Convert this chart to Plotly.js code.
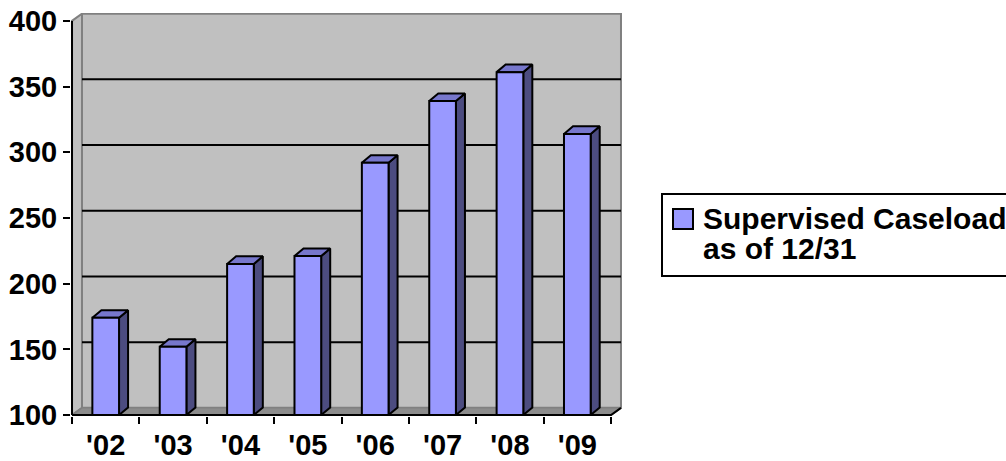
<!DOCTYPE html>
<html>
<head>
<meta charset="utf-8">
<script src="https://cdn.plot.ly/plotly-3.0.1.min.js"></script>
<style>html,body{margin:0;padding:0;background:#fff;}#chart{width:1006px;height:461px;}</style>
</head>
<body>
<div id="chart"></div>
<script>
// ---- data ----
const categories = ["'02", "'03", "'04", "'05", "'06", "'07", "'08", "'09"];
const caseload = [174, 152, 215, 221, 292, 339, 361, 314];
const yTickValues = [100, 150, 200, 250, 300, 350, 400];
const gridValues = [150, 200, 250, 300, 350];
const legendLines = ['Supervised Caseload', 'as of 12/31'];

// ---- 3D look geometry (in axis units) ----
const BASE = 100, TOPV = 400;
const BAR_W = 0.396, BAR_DX = 0.134, BAR_DY = 5.8;
const WALL_DX = 0.148, WALL_DY = 5.5;
const NCAT = categories.length;

const FONT = {family: 'Liberation Sans, Arial, sans-serif', size: 29, color: '#000', weight: 'bold'};
const LFONT = {family: 'Liberation Sans, Arial, sans-serif', size: 30, color: '#000', weight: 'bold'};

function poly(pts) { return {x: pts.map(p => p[0]), y: pts.map(p => p[1])}; }
function multi(list) {
  const x = [], y = [];
  list.forEach(pts => { pts.forEach(p => { x.push(p[0]); y.push(p[1]); }); x.push(null); y.push(null); });
  return {x, y};
}
function fillTrace(d, fill, line, lw) {
  return {type: 'scatter', mode: 'lines', x: d.x, y: d.y, fill: 'toself', fillcolor: fill,
          line: {color: line, width: lw}, hoverinfo: 'skip', showlegend: false};
}
function lineTrace(d, color, lw) {
  return {type: 'scatter', mode: 'lines', x: d.x, y: d.y, line: {color: color, width: lw},
          hoverinfo: 'skip', showlegend: false, connectgaps: false};
}

const xBack0 = WALL_DX, xBack1 = NCAT + WALL_DX;
const traces = [];
// back wall
traces.push(fillTrace(poly([[xBack0, BASE + WALL_DY], [xBack1, BASE + WALL_DY], [xBack1, TOPV + WALL_DY], [xBack0, TOPV + WALL_DY], [xBack0, BASE + WALL_DY]]), '#C0C0C0', '#808080', 2));
// left wall
traces.push(fillTrace(poly([[0, BASE], [xBack0, BASE + WALL_DY], [xBack0, TOPV + WALL_DY], [0, TOPV], [0, BASE]]), '#C0C0C0', '#808080', 2));
// floor
traces.push(fillTrace(poly([[0, BASE], [xBack0, BASE + WALL_DY], [xBack1, BASE + WALL_DY], [NCAT, BASE], [0, BASE]]), '#8C8C8C', '#808080', 1.5));
// gridlines on the back wall
traces.push(lineTrace(multi(gridValues.map(g => [[xBack0, g + WALL_DY], [xBack1, g + WALL_DY]])), '#000', 2));

// bars
const fronts = [], sides = [], tops = [];
caseload.forEach((v, i) => {
  const x0 = i + 0.5 - BAR_W / 2, x1 = i + 0.5 + BAR_W / 2;
  fronts.push([[x0, BASE], [x1, BASE], [x1, v], [x0, v], [x0, BASE]]);
  sides.push([[x1, BASE], [x1 + BAR_DX, BASE + BAR_DY], [x1 + BAR_DX, v + BAR_DY], [x1, v], [x1, BASE]]);
  tops.push([[x0, v], [x1, v], [x1 + BAR_DX, v + BAR_DY], [x0 + BAR_DX, v + BAR_DY], [x0, v]]);
});
traces.push(fillTrace(multi(sides), '#4C4C80', '#000', 2));
traces.push(fillTrace(multi(tops), '#7777CC', '#000', 2));
const frontTrace = fillTrace(multi(fronts), '#9999FF', '#000', 2);
frontTrace.name = legendLines.join(' ');
traces.push(frontTrace);

// axis lines (x axis line lives on the overlaid tick axis x2)
traces.push(lineTrace(poly([[0, BASE], [0, TOPV]]), '#000', 2));
const xLine = lineTrace(poly([[0, BASE], [NCAT, BASE], [NCAT + WALL_DX, BASE + WALL_DY]]), '#000', 2);
xLine.xaxis = 'x2';
traces.push(xLine);

const xRange = [-0.015, NCAT + WALL_DX + 0.015];
const yRange = [99.3, 406];

// manual legend (paper coordinates from pixel positions)
const PL = 71, PW = 551, PB = 416, PH = 403;
const px = v => (v - PL) / PW;
const py = v => (PB - v) / PH;

const layout = {
  width: 1006, height: 461,
  margin: {l: 71, r: 384, t: 13, b: 45, autoexpand: false},
  paper_bgcolor: '#fff', plot_bgcolor: '#fff',
  showlegend: false,
  font: FONT,
  xaxis: {range: xRange, showgrid: false, zeroline: false, showline: false,
    tickmode: 'array', tickvals: categories.map((c, i) => i + 0.5), ticktext: categories,
    ticks: 'outside', ticklen: 3, tickcolor: 'rgba(0,0,0,0)', tickfont: FONT, fixedrange: true},
  xaxis2: {range: xRange, overlaying: 'x', anchor: 'y', side: 'bottom', showgrid: false, zeroline: false,
    showline: false, tickmode: 'array', tickvals: categories.map((c, i) => i).concat([NCAT]),
    showticklabels: false, ticks: 'outside', ticklen: 7, tickwidth: 2, tickcolor: '#000', fixedrange: true},
  yaxis: {range: yRange, showgrid: false, zeroline: false, showline: false,
    tickmode: 'array', tickvals: yTickValues, ticktext: yTickValues.map(String),
    ticks: 'outside', ticklen: 7, tickwidth: 2, tickcolor: '#000', tickfont: FONT, fixedrange: true},
  shapes: [
    {type: 'rect', xref: 'paper', yref: 'paper', x0: px(662), x1: px(1015), y0: py(276), y1: py(194),
     line: {color: '#000', width: 2}, fillcolor: '#fff'},
    {type: 'rect', xref: 'paper', yref: 'paper', x0: px(673), x1: px(693), y0: py(229), y1: py(209),
     line: {color: '#000', width: 2}, fillcolor: '#9999FF'}
  ],
  annotations: legendLines.map((t, k) => ({
    text: t, xref: 'paper', yref: 'paper', x: px(701), y: py(218.5 + k * 29.5),
    xanchor: 'left', yanchor: 'middle', showarrow: false, font: LFONT
  }))
};

Plotly.newPlot('chart', traces, layout, {displayModeBar: false, staticPlot: true});
</script>
</body>
</html>
